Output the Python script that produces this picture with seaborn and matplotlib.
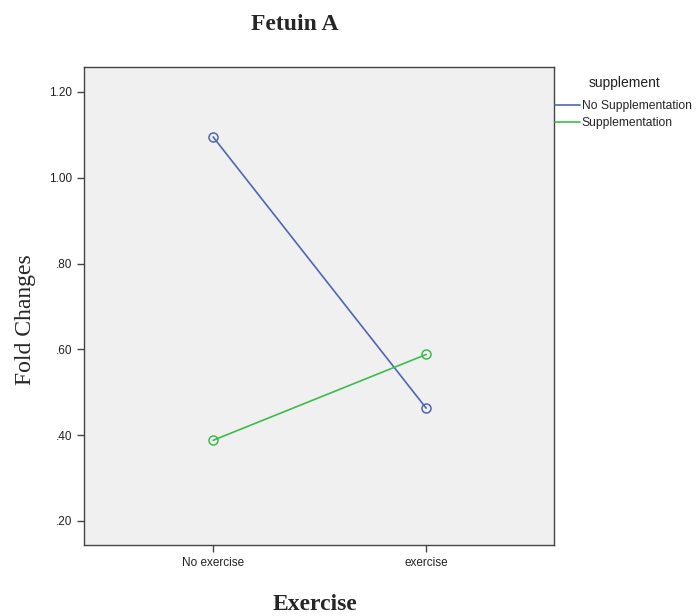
import matplotlib
matplotlib.use("Agg")
import matplotlib.pyplot as plt
import seaborn as sns
import pandas as pd

exercise = ["No exercise", "exercise"]
no_supp = [1.095, 0.463]
supp = [0.388, 0.588]
groups = ["No Supplementation", "Supplementation"]
yticks = [0.20, 0.40, 0.60, 0.80, 1.00, 1.20]
ytick_labels = [".20", ".40", ".60", ".80", "1.00", "1.20"]

df = pd.DataFrame({
    "exercise": exercise * 2,
    "fold": no_supp + supp,
    "supplement": [groups[0]] * 2 + [groups[1]] * 2,
})

sns.set_style("white")
plt.rcParams["font.family"] = ["Liberation Sans", "DejaVu Sans"]

fig = plt.figure(figsize=(6.97, 6.16), dpi=100)
ax = fig.add_axes([84 / 697, 1 - 545 / 616, 470 / 697, 478 / 616])
ax.set_facecolor("#f0f0f0")

colors = {groups[0]: "#4f65b5", groups[1]: "#3dbb4e"}
sns.lineplot(data=df, x="exercise", y="fold", hue="supplement", palette=colors,
             marker="o", ax=ax, linewidth=1.2, legend=True)
for line in ax.lines:
    c = line.get_color()
    line.set_markerfacecolor("none")
    line.set_markeredgecolor(c)
    line.set_markeredgewidth(1.1)
    line.set_markersize(6.5)

ax.set_xlim(-0.606, 1.60)
ax.set_ylim(0.144, 1.258)
ax.set_yticks(yticks)
ax.set_yticklabels(ytick_labels)
ax.set_xticks([0, 1])
ax.set_xticklabels(exercise)
for s in ax.spines.values():
    s.set_color("#444444")
    s.set_linewidth(1.0)
ax.tick_params(axis="both", which="both", direction="out", length=5, width=1,
               color="#444444", labelsize=8.5, labelcolor="#222222", left=True, bottom=True)

ax.set_xlabel("")
ax.set_ylabel("")
fig.text(295 / 697, 1 - 25 / 616, "Fetuin A", ha="center", va="center",
         family="Liberation Serif", fontweight="bold", fontsize=17)
fig.text(315 / 697, 1 - 605 / 616, "Exercise", ha="center", va="center",
         family="Liberation Serif", fontweight="bold", fontsize=17)
fig.text(25 / 697, 1 - 320 / 616, "Fold Changes", ha="center", va="center",
         rotation=90, family="Liberation Serif", fontsize=17)

fig.text(625 / 697, 1 - 83 / 616, "supplement", ha="center", va="center",
         fontsize=10, color="#222222")
leg = ax.legend(loc="upper left", bbox_to_anchor=(555 / 697, 1 - 100 / 616),
                bbox_transform=fig.transFigure,
                frameon=False, fontsize=8.7, handlelength=2.1,
                handletextpad=0.1, labelspacing=0.45, borderaxespad=0.0,
                borderpad=0.0)
for h in leg.get_lines():
    h.set_marker("")

fig.savefig("out.png", dpi=100)
